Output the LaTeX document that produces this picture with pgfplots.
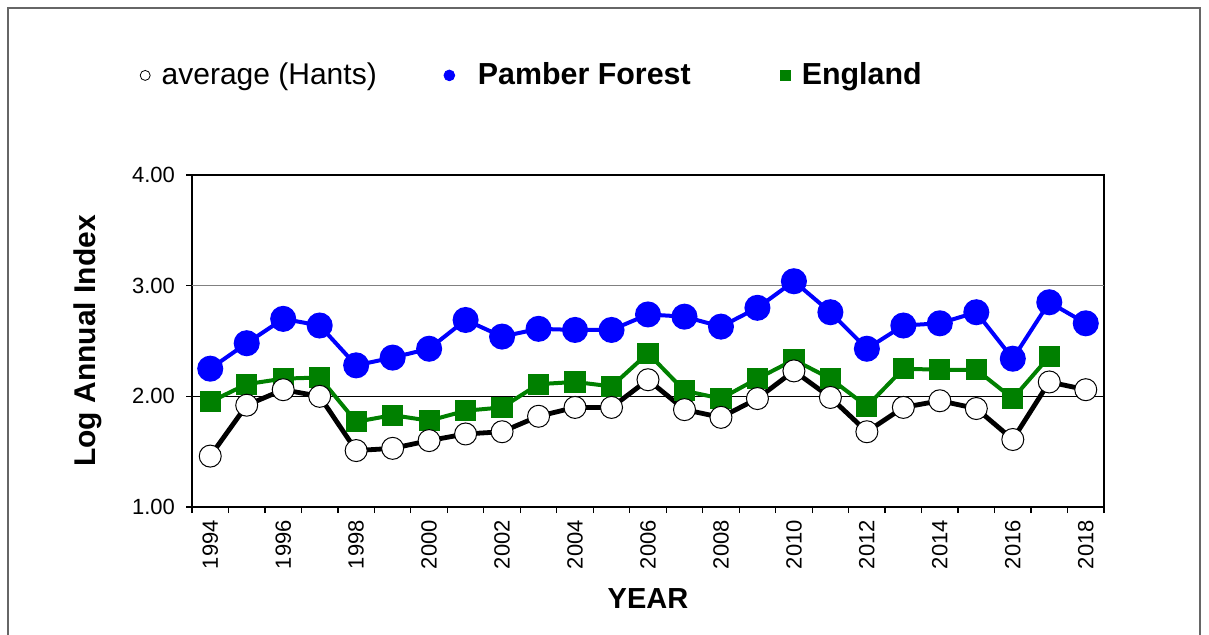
\documentclass[border=0pt]{standalone}
\usepackage{fontspec}
\setmainfont{Liberation Sans}
\usepackage{pgfplots}
\pgfplotsset{compat=1.18}

\definecolor{pamber}{RGB}{0,0,255}
\definecolor{england}{RGB}{0,128,0}

\begin{document}
\begin{tikzpicture}[x=1pt,y=1pt]
\path[use as bounding box] (0,0) rectangle (604.5,317);
\draw[gray!80!black, line width=0.6pt] (4,-2) -- (4,313) -- (600,313) -- (600,-2);
\begin{axis}[
    at={(96pt,63.5pt)}, anchor=south west,
    scale only axis,
    width=456pt, height=166pt,
    xmin=1993.5, xmax=2018.5,
    ymin=1, ymax=4,
    ytick={1,2,3,4},
    xtick={1994,1996,...,2018},
    minor xtick={1993.5,1994.5,...,2018.5},
    major x tick style={draw=none},
    tick align=outside,
    xtick pos=bottom, ytick pos=left,
    major tick length=3pt, minor tick length=3pt,
    tick style={black, line width=0.6pt},
    axis line style={black, line width=1.1pt},
    /pgf/number format/assume math mode=true,
    yticklabel style={/pgf/number format/.cd, fixed, fixed zerofill, precision=2, /tikz/.cd, xshift=-2pt},
    xticklabel style={rotate=90, anchor=east, /pgf/number format/1000 sep={}},
    tick label style={font=\fontsize{11}{13}\selectfont},
    ylabel={\textbf{Log Annual Index}},
    ylabel style={font=\fontsize{15}{18}\selectfont, at={(axis description cs:-0.114,0.5)}, anchor=center},
    xlabel={\textbf{YEAR}},
    xlabel style={font=\fontsize{14.5}{17}\selectfont, at={(axis description cs:0.5,-0.225)}, anchor=north},
    legend columns=3,
    legend style={draw=none, fill=none, font=\fontsize{15}{17}\selectfont,
        at={(axis description cs:-0.0677,1.30)}, anchor=west,
        /tikz/every even column/.append style={column sep=30pt}},
    legend image code/.code={\path[draw=none, fill=none] (0cm,0cm) rectangle (0.37cm,0cm); \draw[#1] plot coordinates {(0.15cm,0cm)};},
]
\draw[gray, line width=0.6pt] (axis cs:1993.5,3) -- (axis cs:2018.5,3);
\draw[black, line width=0.5pt] (axis cs:1993.5,2) -- (axis cs:2018.5,2);

\addlegendimage{only marks, mark=o, mark size=2.5pt, black, mark options={line width=0.4pt}}
\addlegendentry{average (Hants)}
\addlegendimage{only marks, mark=*, mark size=2.7pt, pamber}
\addlegendentry{\rule{6pt}{0pt}\fontsize{15.2}{17}\selectfont\textbf{Pamber Forest}\rule{11pt}{0pt}}
\addlegendimage{only marks, mark=square*, mark size=2.5pt, england}
\addlegendentry{\fontsize{15.2}{17}\selectfont\textbf{England}}

\addplot[forget plot, pamber, line width=2pt, mark=*, mark size=5.5pt] coordinates {
(1994,2.25)(1995,2.48)(1996,2.70)(1997,2.64)(1998,2.28)(1999,2.35)(2000,2.43)
(2001,2.69)(2002,2.54)(2003,2.61)(2004,2.60)(2005,2.60)(2006,2.74)(2007,2.72)
(2008,2.63)(2009,2.80)(2010,3.04)(2011,2.76)(2012,2.43)(2013,2.64)(2014,2.66)
(2015,2.76)(2016,2.34)(2017,2.85)(2018,2.66)};

\addplot[forget plot, england, line width=2pt, mark=square*, mark size=4.3pt] coordinates {
(1994,1.95)(1995,2.11)(1996,2.16)(1997,2.17)(1998,1.77)(1999,1.83)(2000,1.78)
(2001,1.87)(2002,1.90)(2003,2.11)(2004,2.13)(2005,2.09)(2006,2.39)(2007,2.05)
(2008,1.98)(2009,2.16)(2010,2.33)(2011,2.16)(2012,1.91)(2013,2.25)(2014,2.24)
(2015,2.24)(2016,1.98)(2017,2.36)};

\addplot[forget plot, black, line width=2.4pt, mark=*, mark size=5.5pt,
    mark options={fill=white, draw=black, line width=0.5pt}] coordinates {
(1994,1.46)(1995,1.92)(1996,2.06)(1997,2.00)(1998,1.51)(1999,1.53)(2000,1.60)
(2001,1.66)(2002,1.68)(2003,1.82)(2004,1.90)(2005,1.90)(2006,2.15)(2007,1.88)
(2008,1.81)(2009,1.98)(2010,2.23)(2011,1.99)(2012,1.68)(2013,1.90)(2014,1.96)
(2015,1.89)(2016,1.61)(2017,2.13)(2018,2.06)};
\end{axis}
\end{tikzpicture}
\end{document}
